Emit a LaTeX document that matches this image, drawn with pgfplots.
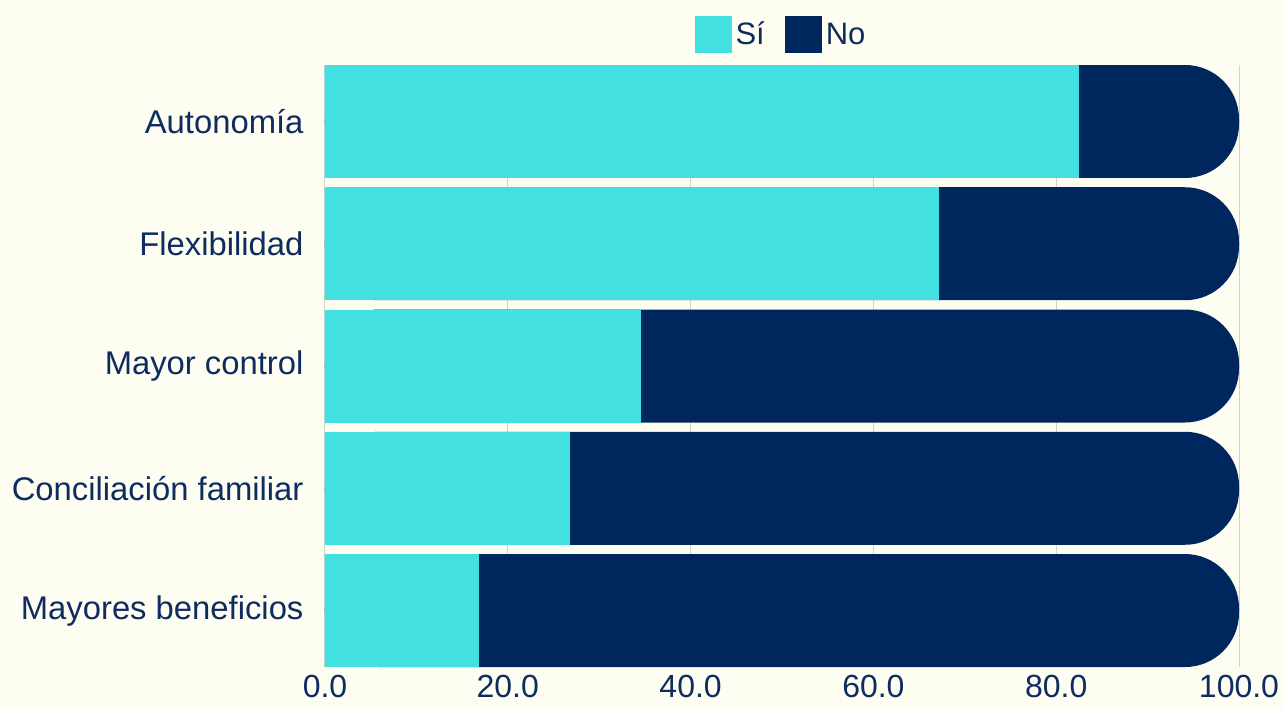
\documentclass[border=0pt]{standalone}
\usepackage{pgfplots}
\pgfplotsset{compat=1.18}
\usepackage{pgfplotstable}
\usepackage{fontspec}
\setmainfont{Liberation Sans}
\definecolor{bg}{HTML}{FDFDF1}
\definecolor{cyanb}{HTML}{42E0E0}
\definecolor{navy}{HTML}{00265E}
\definecolor{txt}{HTML}{0F2C60}
\definecolor{gridc}{HTML}{D2D2CC}
\pgfplotstableread{
y si no
0 82.4 17.6
1 67.1 32.9
2 34.5 65.5
3 26.7 73.3
4 16.8 83.2
}\datatable
\begin{document}
\begin{tikzpicture}
\fill[bg] (0,0) rectangle (1283pt,710pt);
\useasboundingbox (0,0) rectangle (1283pt,710pt);
\begin{axis}[
  at={(325pt,43pt)}, anchor=south west,
  scale only axis, width=914pt, height=602pt,
  xmin=0, xmax=100, ymin=-0.462, ymax=4.462, y dir=reverse,
  axis line style={draw=none},
  major tick length=0pt,
  xtick={0,20,...,100},
  ytick={0,...,4},
  yticklabels={Autonomía,Flexibilidad,Mayor control,Conciliación familiar,Mayores beneficios},
  xmajorgrids, grid style={color=gridc, line width=1pt},
  /pgf/number format/assume math mode=true,
  xticklabel={\pgfmathprintnumber[fixed,fixed zerofill,precision=1]{\tick}},
  xticklabel style={font=\fontsize{32}{32}\selectfont, text=txt, yshift=-5pt},
  yticklabel style={font=\fontsize{32.8}{33}\selectfont, text=txt, xshift=-18pt},
  legend columns=2,
  legend style={at={(0.5,1)}, anchor=south, yshift=12pt, draw=none, fill=none,
    inner sep=0pt, font=\fontsize{31}{31}\selectfont, text=txt,
    nodes={inner sep=4pt},
    /tikz/every even column/.append style={column sep=16pt}},
  legend image code/.code={\fill[#1, draw=none] (0pt,-18.5pt) rectangle (37pt,18.5pt);},
]
\addlegendimage{fill=cyanb, draw=none}\addlegendentry{Sí}
\addlegendimage{fill=navy, draw=none}\addlegendentry{No}
\addplot[xbar, bar width=113pt, bar shift=0pt, fill=navy, draw=none, rounded corners=54pt, forget plot]
  table[x expr=\thisrow{si}+\thisrow{no}, y=y]{\datatable};
\addplot[xbar, bar width=112pt, bar shift=0pt, fill=cyanb, draw=cyanb, line width=1pt, forget plot]
  table[x=si, y=y]{\datatable};
\end{axis}
\end{tikzpicture}
\end{document}
